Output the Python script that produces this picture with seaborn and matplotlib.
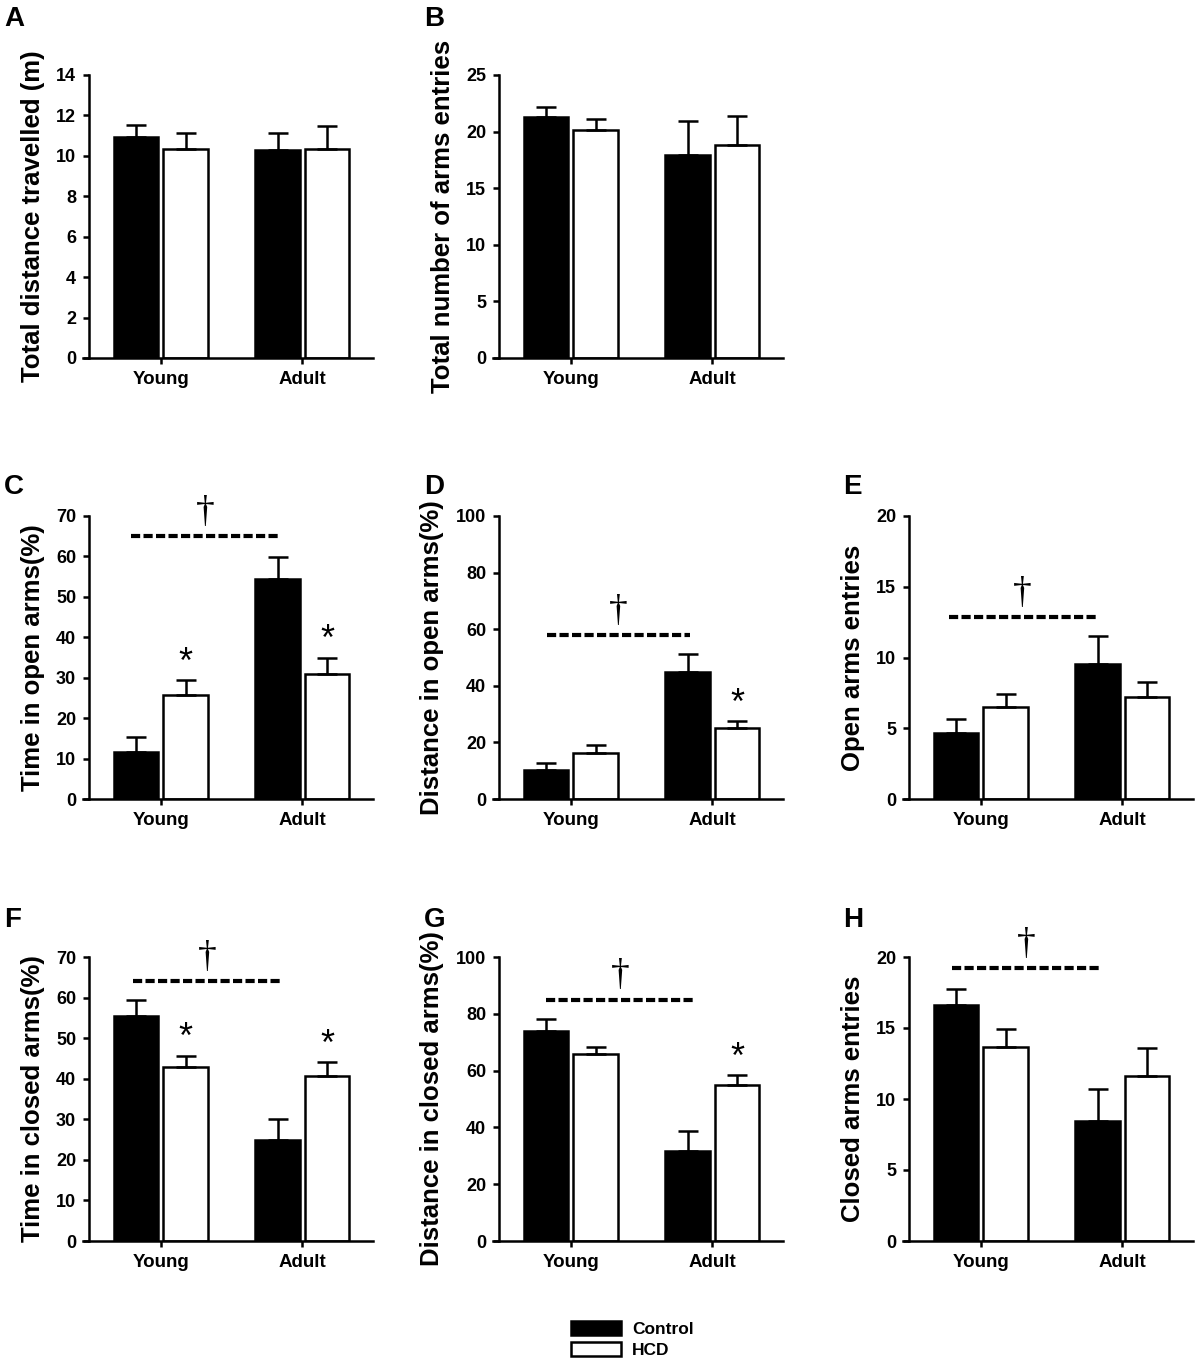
import numpy as np
import pandas as pd
import matplotlib
matplotlib.use("Agg")
import matplotlib.pyplot as plt
import seaborn as sns
from matplotlib.patches import Patch

# ---------------- data ----------------
ages = ["Young", "Adult"]
groups = ["Control", "HCD"]

A_control = [10.95, 10.30]
A_control_sem = [0.60, 0.82]
A_hcd = [10.35, 10.32]
A_hcd_sem = [0.80, 1.17]

B_control = [21.30, 17.95]
B_control_sem = [0.90, 3.00]
B_hcd = [20.15, 18.85]
B_hcd_sem = [0.93, 2.50]

C_control = [11.7, 54.3]
C_control_sem = [3.7, 5.5]
C_hcd = [25.7, 31.0]
C_hcd_sem = [3.7, 4.0]

D_control = [10.1, 44.9]
D_control_sem = [2.6, 6.2]
D_hcd = [16.4, 25.0]
D_hcd_sem = [2.75, 2.6]

E_control = [4.65, 9.55]
E_control_sem = [1.00, 1.95]
E_hcd = [6.50, 7.20]
E_hcd_sem = [0.95, 1.10]

F_control = [55.4, 25.0]
F_control_sem = [4.1, 5.1]
F_hcd = [42.9, 40.6]
F_hcd_sem = [2.8, 3.5]

G_control = [73.9, 31.8]
G_control_sem = [4.2, 6.8]
G_hcd = [65.8, 55.0]
G_hcd_sem = [2.4, 3.5]

H_control = [16.65, 8.45]
H_control_sem = [1.07, 2.25]
H_hcd = [13.65, 11.60]
H_hcd_sem = [1.30, 2.00]

ylabels = {
    "A": "Total distance travelled (m)",
    "B": "Total number of arms entries",
    "C": "Time in open arms(%)",
    "D": "Distance in open arms(%)",
    "E": "Open arms entries",
    "F": "Time in closed arms(%)",
    "G": "Distance in closed arms(%)",
    "H": "Closed arms entries",
}
yranges = {"A": (14, 2), "B": (25, 5), "C": (70, 10), "D": (100, 20),
           "E": (20, 5), "F": (70, 10), "G": (100, 20), "H": (20, 5)}

# significance annotations: dashed line (x0, x1, y) and HCD bars with '*'
dash_lines = {"C": (-0.21, 0.84, 65.0), "D": (-0.165, 0.84, 57.8),
              "E": (-0.225, 0.815, 12.85), "F": (-0.195, 0.857, 64.0),
              "G": (-0.178, 0.873, 85.0), "H": (-0.206, 0.85, 19.2)}
star_ages = {"C": ["Young", "Adult"], "D": ["Adult"], "F": ["Young", "Adult"],
             "G": ["Adult"]}

panels = {
    "A": (A_control, A_control_sem, A_hcd, A_hcd_sem),
    "B": (B_control, B_control_sem, B_hcd, B_hcd_sem),
    "C": (C_control, C_control_sem, C_hcd, C_hcd_sem),
    "D": (D_control, D_control_sem, D_hcd, D_hcd_sem),
    "E": (E_control, E_control_sem, E_hcd, E_hcd_sem),
    "F": (F_control, F_control_sem, F_hcd, F_hcd_sem),
    "G": (G_control, G_control_sem, G_hcd, G_hcd_sem),
    "H": (H_control, H_control_sem, H_hcd, H_hcd_sem),
}

# ---------------- style ----------------
sns.set_style("ticks")
plt.rcParams["font.family"] = ["Liberation Sans", "DejaVu Sans"]
plt.rcParams["font.weight"] = "bold"
plt.rcParams["axes.labelweight"] = "bold"
for k in ["text.color", "axes.labelcolor", "xtick.color", "ytick.color",
          "axes.edgecolor"]:
    plt.rcParams[k] = "black"

W, H = 1200, 1365
fig = plt.figure(figsize=(W / 100, H / 100), dpi=100)

col_left = [83, 493, 903]
ax_w = 290
row_top = [75, 516, 957]
row_bot = [358, 799, 1241]
layout = {"A": (0, 0), "B": (0, 1), "C": (1, 0), "D": (1, 1), "E": (1, 2),
          "F": (2, 0), "G": (2, 1), "H": (2, 2)}
letter_x = [4, 424, 843]
letter_base = [26, 494, 927]

LW = 1.8
palette = {"Control": "black", "HCD": "white"}

for key, (r, c) in layout.items():
    ctrl, ctrl_sem, hcd, hcd_sem = panels[key]
    l = col_left[c]
    t, b = row_top[r], row_bot[r]
    ax = fig.add_axes([l / W, 1 - b / H, ax_w / W, (b - t) / H])
    df = pd.DataFrame({
        "Age": ages * 2,
        "Group": ["Control"] * 2 + ["HCD"] * 2,
        "Value": list(ctrl) + list(hcd),
    })
    sns.barplot(data=df, x="Age", y="Value", hue="Group", order=ages,
                hue_order=groups, palette=palette, edgecolor="black",
                linewidth=LW, width=0.7, gap=0.1, errorbar=None,
                saturation=1, legend=False, ax=ax, zorder=2)
    sems = {"Control": ctrl_sem, "HCD": hcd_sem}
    tops = {}
    for g, cont in zip(groups, ax.containers):
        for age, bar, s in zip(ages, cont, sems[g]):
            x = bar.get_x() + bar.get_width() / 2
            h = bar.get_height()
            ax.errorbar([x], [h], yerr=[[0], [s]], fmt="none", ecolor="black",
                        elinewidth=LW, capsize=7.2, capthick=LW, zorder=3,
                        clip_on=False)
            tops[(g, age)] = (x, h + s)

    ymax, step = yranges[key]
    ax.set_ylim(0, ymax)
    ax.set_yticks(np.arange(0, ymax + step / 2, step))
    ax.set_xlim(-0.55, 1.5)
    ax.set_xticks([0, 1])
    ax.set_xticklabels(ages)
    ax.set_xlabel("")
    ax.set_ylabel(ylabels[key], fontsize=18.5, fontweight="bold",
                  color="black")
    ax.yaxis.set_label_coords(-0.168 if ymax >= 100 else -0.132, 0.5)
    for s in ["top", "right"]:
        ax.spines[s].set_visible(False)
    ax.spines["left"].set_position(("data", -0.505))
    ax.spines["left"].set_linewidth(LW)
    ax.spines["bottom"].set_linewidth(LW)
    ax.tick_params(axis="both", direction="out", length=4.5, width=LW,
                   color="black", labelcolor="black")
    ax.tick_params(axis="x", pad=5, labelsize=13.5)
    ax.tick_params(axis="y", pad=5, labelsize=13)
    for lab in ax.get_xticklabels() + ax.get_yticklabels():
        lab.set_fontweight("bold")

    if key in dash_lines:
        x0, x1, yd = dash_lines[key]
        ax.plot([x0, x1], [yd, yd], color="black", lw=3.0,
                linestyle=(0, (2.2, 0.8)), dash_capstyle="butt",
                clip_on=False, zorder=4)
        ax.annotate("\u2020", xy=((x0 + x1) / 2, yd), xytext=(0, 17),
                    textcoords="offset points", ha="center", va="center",
                    fontsize=27, fontweight="normal", color="black",
                    family=["Liberation Serif", "DejaVu Serif"],
                    annotation_clip=False)
    for age in star_ages.get(key, []):
        xs, ys = tops[("HCD", age)]
        ax.annotate("*", xy=(xs, ys), xytext=(0, 12),
                    textcoords="offset points", ha="center", va="center",
                    fontsize=26, fontweight="normal", color="black",
                    family=["Liberation Sans", "DejaVu Sans"],
                    annotation_clip=False)

    fig.text(letter_x[c] / W, 1 - letter_base[r] / H, key, fontsize=20,
             fontweight="bold", ha="left", va="baseline", color="black")

handles = [Patch(facecolor=palette[g], edgecolor="black", linewidth=LW)
           for g in groups]
leg = fig.legend(handles=handles, labels=groups, loc="upper left",
                 bbox_to_anchor=(571 / W, 1 - 1321 / H), frameon=False,
                 handlelength=2.88, handleheight=0.86,
                 handletextpad=0.65, labelspacing=0.27, borderpad=0,
                 borderaxespad=0, prop={"weight": "bold", "size": 12.5})
for txt in leg.get_texts():
    txt.set_color("black")

fig.savefig("out.png", dpi=100)
